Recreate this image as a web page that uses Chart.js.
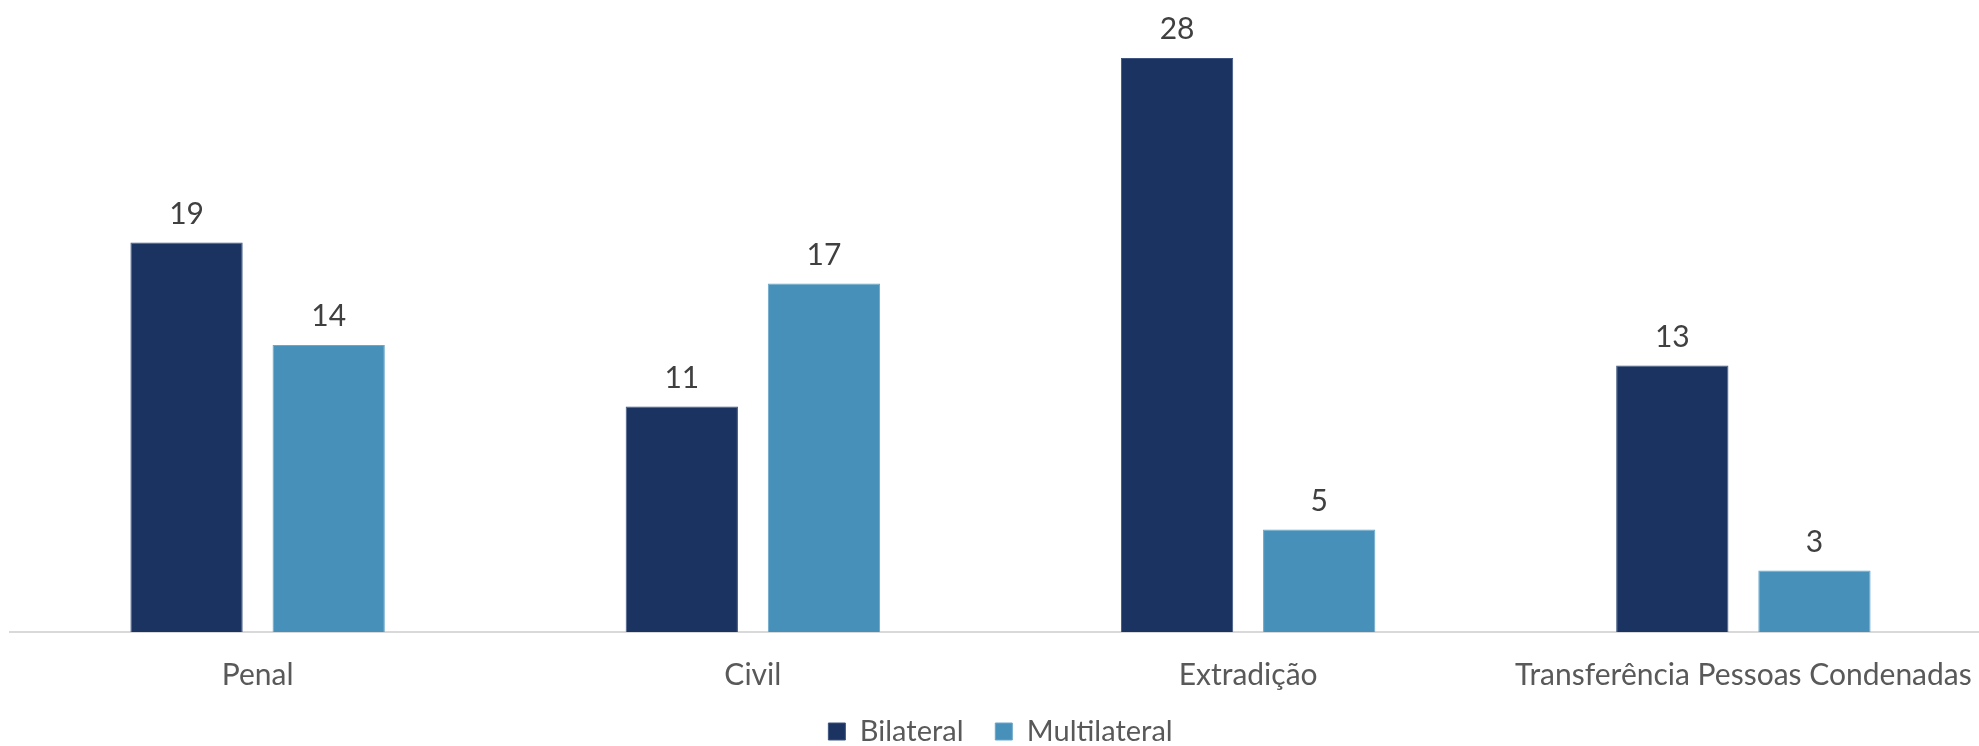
<!DOCTYPE html>
<html lang="pt">
<head>
<meta charset="utf-8">
<title>Acordos bilaterais e multilaterais</title>
<script src="https://cdn.jsdelivr.net/npm/chart.js@4.4.1/dist/chart.umd.min.js"></script>
<style>
  html, body { margin: 0; padding: 0; background: #fff; overflow: hidden; }
  #wrap { width: 1991px; height: 746px; }
</style>
</head>
<body>
<div id="wrap"><canvas id="chart" width="1991" height="746"></canvas></div>
<script>
// Data
const categories = ['Penal', 'Civil', 'Extradição', 'Transferência Pessoas Condenadas'];
const bilateral = [19, 11, 28, 13];
const multilateral = [14, 17, 5, 3];

const COLOR_BI = '#1B3360';
const COLOR_MULTI = '#4690BA';
const FONT = "Lato, 'Open Sans', sans-serif";

// draw the value above each bar
const valueLabels = {
    id: 'valueLabels',
    afterDatasetsDraw(chart) {
        const ctx = chart.ctx;
        ctx.save();
        ctx.font = '30px ' + FONT;
        ctx.fillStyle = '#404040';
        ctx.textAlign = 'center';
        ctx.textBaseline = 'alphabetic';
        chart.data.datasets.forEach((ds, i) => {
            chart.getDatasetMeta(i).data.forEach((bar, j) => {
                ctx.fillText(ds.data[j], bar.x, bar.y - 19);
            });
        });
        ctx.restore();
    }
};

new Chart(document.getElementById('chart'), {
    type: 'bar',
    data: {
        labels: categories,
        datasets: [
            {
                label: 'Bilateral',
                data: bilateral,
                backgroundColor: COLOR_BI,
                borderColor: '#3d5580',
                borderWidth: 1,
                barPercentage: 0.79,
                categoryPercentage: 0.574
            },
            {
                label: 'Multilateral',
                data: multilateral,
                backgroundColor: COLOR_MULTI,
                borderColor: '#6aa7c9',
                borderWidth: 1,
                barPercentage: 0.79,
                categoryPercentage: 0.574
            }
        ]
    },
    options: {
        responsive: false,
        animation: false,
        layout: { padding: { left: 10, right: 0, top: 17, bottom: -10 } },
        plugins: {
            legend: {
                position: 'bottom',
                labels: {
                    boxWidth: 17,
                    boxHeight: 17,
                    padding: 10,
                    color: '#595959',
                    font: { family: FONT, size: 29 },
                    // a bit more room between the two entries
                    generateLabels(chart) {
                        const items = Chart.defaults.plugins.legend.labels.generateLabels(chart);
                        return items.map((it, i) => i < items.length - 1 ? { ...it, text: it.text + '\u2002\u2005' } : it);
                    }
                }
            },
            tooltip: { enabled: false }
        },
        scales: {
            x: {
                grid: { display: false },
                border: { display: true, color: '#D9D9D9', width: 2 },
                ticks: {
                    color: '#595959',
                    padding: 17,
                    font: { family: FONT, size: 30 }
                },
                afterFit(scale) { scale.height = 75; }
            },
            y: {
                display: false,
                min: 0,
                max: 30
            }
        }
    },
    plugins: [valueLabels]
});
</script>
</body>
</html>
